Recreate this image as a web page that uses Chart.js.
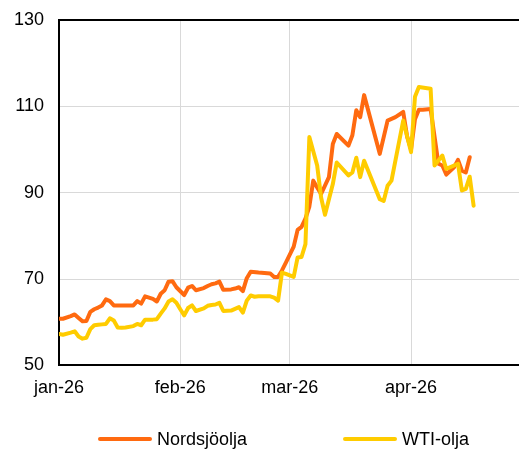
<!DOCTYPE html>
<html>
<head>
<meta charset="utf-8">
<script src="https://cdn.jsdelivr.net/npm/chart.js@4/dist/chart.umd.min.js"></script>
<style>
  html, body { margin: 0; padding: 0; background: #fff; }
  #wrap { width: 519px; height: 449px; }
</style>
</head>
<body>
<div id="wrap"><canvas id="c" width="519" height="449"></canvas></div>
<script>
// Days counted from 1 January 2026
const monthStarts = [0, 31, 59, 90];
const monthLabels = ['jan-26', 'feb-26', 'mar-26', 'apr-26'];
const axisEndDay = 117.6;

// Nordsjöolja (Brent), USD per fat
const nordDays = [0, 1, 3, 4, 5, 6, 7, 8, 9, 10, 11, 12, 13, 14, 16, 19, 20, 21, 22, 24, 25, 26, 27, 28, 29, 30,
  32, 33, 34, 35, 37, 38, 39, 40, 41, 42, 44, 45, 46, 47, 48, 49, 51, 54, 55, 56, 57, 58, 60, 61, 62, 63, 64, 65,
  66, 67, 69, 70, 71, 74, 75, 76, 77, 78, 82, 84, 86, 88, 89, 90, 91, 92, 93, 95, 97, 98, 99, 101, 102, 103, 104, 105];
const nordPrices = [60.8, 60.8, 61.4, 61.8, 61.0, 60.2, 60.3, 62.4, 63.0, 63.4, 63.9, 65.3, 64.9, 63.9, 63.9, 63.9, 64.9, 64.3, 66.0, 65.4, 64.8, 66.6, 67.4, 69.4, 69.5, 68.1,
  66.3, 68.0, 68.4, 67.4, 67.9, 68.4, 68.8, 69.0, 69.4, 67.5, 67.6, 67.8, 68.1, 67.2, 70.2, 71.7, 71.5, 71.3, 70.5, 70.5, 72.0, 73.8, 77.5, 81.4, 82.1, 84.0, 86.8, 92.8,
  91.2, 89.7, 93.6, 101.3, 103.6, 100.9, 103.3, 109.1, 107.5, 112.6, 99.0, 106.7, 107.5, 108.7, 103.0, 100.0, 107.0, 109.2, 109.2, 109.4, 96.7, 96.3, 94.2, 95.9, 97.6, 95.1, 94.7, 98.2];

// WTI-olja, USD per fat
const wtiDays = [0, 1, 3, 4, 5, 6, 7, 8, 9, 10, 11, 12, 13, 14, 15, 16, 17, 19, 20, 21, 22, 24, 25, 26, 27, 28, 29, 30, 31,
  32, 33, 34, 35, 37, 38, 39, 40, 41, 42, 44, 46, 47, 48, 49, 50, 51, 54, 55, 56, 57, 58, 60, 61, 62, 63, 64,
  66, 67, 68, 70, 71, 74, 75, 76, 77, 78, 82, 83, 84, 85, 88, 90, 91, 92, 95, 96, 98, 99, 101, 102, 103, 104, 105, 106];
const wtiPrices = [57.3, 57.1, 57.6, 57.9, 56.7, 56.2, 56.4, 58.4, 59.3, 59.4, 59.5, 59.6, 60.9, 60.4, 58.8, 58.7, 58.8, 59.1, 59.6, 59.3, 60.6, 60.6, 60.7, 62.0, 63.2, 64.8, 65.3, 64.5, 63.0,
  61.6, 63.3, 63.9, 62.6, 63.2, 63.8, 64.0, 64.1, 64.5, 62.6, 62.7, 63.5, 62.2, 65.0, 66.2, 65.9, 66.0, 66.0, 65.7, 65.0, 71.5, 71.2, 70.5, 75.0, 75.1, 78.1, 102.9,
  96.3, 88.9, 84.9, 92.0, 97.0, 94.0, 94.7, 98.1, 93.6, 97.4, 88.5, 88.1, 91.6, 92.8, 106.7, 99.4, 112.2, 114.5, 114.1, 96.3, 98.6, 95.5, 96.3, 96.7, 90.5, 90.9, 93.7, 87.0];

const toPoints = (days, prices) => days.map((d, i) => ({ x: d, y: prices[i] }));

const FONT = '"Liberation Sans", Arial, sans-serif';
const GRID = '#d9d9d9';

// Legend with long line samples, laid out under the plot
const bottomLegend = {
  id: 'bottomLegend',
  afterDraw(chart, args, opts) {
    const ctx = chart.ctx;
    ctx.save();
    ctx.font = opts.size + 'px ' + FONT;
    ctx.textBaseline = 'middle';
    ctx.textAlign = 'left';
    chart.data.datasets.forEach((ds, i) => {
      const x0 = opts.starts[i];
      ctx.strokeStyle = ds.borderColor;
      ctx.lineWidth = 4;
      ctx.lineCap = 'round';
      ctx.beginPath();
      ctx.moveTo(x0, opts.y);
      ctx.lineTo(x0 + opts.sample, opts.y);
      ctx.stroke();
      ctx.fillStyle = '#000';
      ctx.fillText(ds.label, x0 + opts.sample + opts.gap, opts.y + 1);
    });
    ctx.restore();
  }
};

new Chart(document.getElementById('c'), {
  type: 'line',
  data: {
    datasets: [
      {
        label: 'Nordsjöolja',
        data: toPoints(nordDays, nordPrices),
        borderColor: '#FF6A10',
        backgroundColor: '#FF6A10',
        borderWidth: 4,
        pointRadius: 0,
        tension: 0,
        borderJoinStyle: 'round',
        borderCapStyle: 'round',
        order: 1
      },
      {
        label: 'WTI-olja',
        data: toPoints(wtiDays, wtiPrices),
        borderColor: '#FFCC00',
        backgroundColor: '#FFCC00',
        borderWidth: 4,
        pointRadius: 0,
        tension: 0,
        borderJoinStyle: 'round',
        borderCapStyle: 'round',
        order: 0
      }
    ]
  },
  options: {
    responsive: false,
    animation: false,
    events: [],
    layout: { padding: { left: -1, right: 0, top: 20, bottom: 38 } },
    plugins: {
      legend: { display: false },
      tooltip: { enabled: false },
      bottomLegend: { starts: [100, 345], y: 439, sample: 50, gap: 7, size: 18 }
    },
    scales: {
      x: {
        type: 'linear',
        min: 0,
        max: axisEndDay,
        afterBuildTicks(scale) {
          scale.ticks = monthStarts.map(v => ({ value: v }));
        },
        ticks: {
          autoSkip: false,
          maxRotation: 0,
          padding: 12,
          color: '#000',
          font: { family: FONT, size: 18 },
          callback(value) {
            const i = monthStarts.indexOf(value);
            return i >= 0 ? monthLabels[i] : '';
          }
        },
        grid: { color: GRID, lineWidth: 1, drawTicks: false },
        border: { color: '#000', width: 2 }
      },
      y: {
        min: 50,
        max: 130,
        afterFit(scale) {
          scale.paddingTop = 0;
          scale.paddingBottom = 0;
        },
        ticks: {
          stepSize: 20,
          padding: 15,
          color: '#000',
          font: { family: FONT, size: 18 }
        },
        grid: {
          drawTicks: false,
          color: c => (c.tick && c.tick.value === 130 ? '#000' : GRID),
          lineWidth: c => (c.tick && c.tick.value === 130 ? 2 : 1)
        },
        border: { color: '#000', width: 2 }
      }
    }
  },
  plugins: [bottomLegend]
});
</script>
</body>
</html>
